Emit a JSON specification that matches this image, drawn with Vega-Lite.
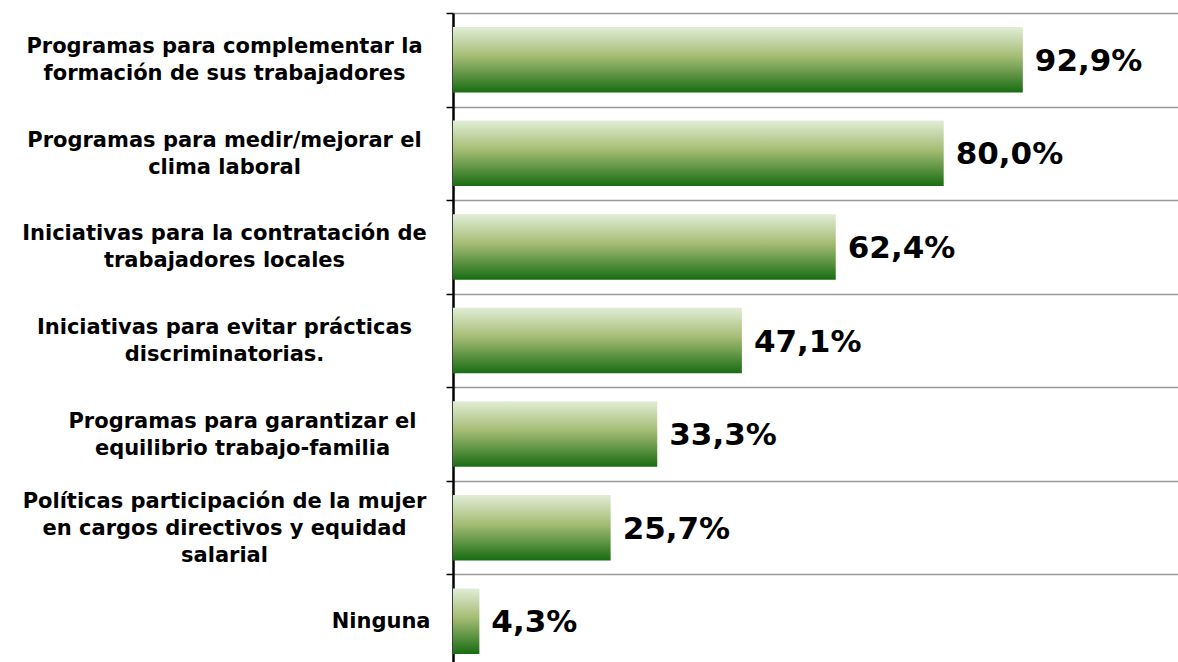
{
  "$schema": "https://vega.github.io/schema/vega-lite/v6.json",
  "autosize": "none",
  "width": 725,
  "height": 655,
  "padding": {"left": 453, "top": 13, "right": 0, "bottom": 0},
  "background": "white",
  "data": {
    "values": [
      {"cat": "Programas para complementar la|formación de sus trabajadores", "v": 92.9},
      {"cat": "Programas para medir/mejorar el|clima laboral", "v": 80.0},
      {"cat": "Iniciativas para la contratación de|trabajadores locales", "v": 62.4},
      {"cat": "Iniciativas para evitar prácticas|discriminatorias.", "v": 47.1},
      {"cat": "Programas para garantizar el|equilibrio trabajo-familia", "v": 33.3},
      {"cat": "Políticas participación de la mujer|en cargos directivos y equidad|salarial", "v": 25.7},
      {"cat": "Ninguna", "v": 4.3}
    ]
  },
  "transform": [
    {"calculate": "replace(format(datum.v, '.1f'), '.', ',') + '%'", "as": "lbl"}
  ],
  "encoding": {
    "y": {
      "field": "cat",
      "type": "nominal",
      "sort": null,
      "scale": {"paddingInner": 0, "paddingOuter": 0},
      "axis": {
        "title": null,
        "orient": "left",
        "labelExpr": "isString(datum.value) ? split(datum.value, '|') : ''",
        "labelFont": "DejaVu Sans",
        "labelFontWeight": "bold",
        "labelFontSize": 21,
        "labelColor": "black",
        "labelLimit": 0,
        "labelLineHeight": 27,
        "labelBaseline": {"condition": {"test": "datum.value === 'Ninguna'", "value": "middle"}, "value": "line-bottom"},
        "labelAlign": {"condition": {"test": "datum.value === 'Ninguna'", "value": "right"}, "value": "center"},
        "labelOffset": {"condition": {"test": "isString(datum.value) && indexof(datum.value, 'salarial') >= 0", "value": -13}, "value": 0},
        "labelPadding": {"condition": [
          {"test": "datum.value === 'Ninguna'", "value": 16},
          {"test": "isString(datum.value) && indexof(datum.value, 'garantizar') >= 0", "value": 204}
        ], "value": 222},
        "tickBand": "extent",
        "ticks": true,
        "tickSize": 7,
        "tickColor": "black",
        "tickWidth": 1.5,
        "domain": true,
        "domainColor": "black",
        "domainWidth": 2.5,
        "grid": true,
        "gridColor": "#999999",
        "gridWidth": 1.5
      }
    },
    "x": {
      "field": "v",
      "type": "quantitative",
      "scale": {"domain": [0, 118.2], "nice": false},
      "axis": null
    }
  },
  "layer": [
    {
      "mark": {
        "type": "bar",
        "height": {"band": 0.7},
        "color": {
          "gradient": "linear",
          "x1": 0, "y1": 0, "x2": 0, "y2": 1,
          "stops": [
            {"offset": 0, "color": "#e1edd6"},
            {"offset": 0.45, "color": "#a4bc73"},
            {"offset": 1, "color": "#186c13"}
          ]
        }
      }
    },
    {
      "mark": {
        "type": "text",
        "align": "left",
        "baseline": "middle",
        "dx": 12,
        "dy": 2,
        "font": "DejaVu Sans",
        "fontWeight": "bold",
        "fontSize": 31,
        "color": "black"
      },
      "encoding": {"text": {"field": "lbl"}}
    }
  ],
  "config": {"view": {"stroke": null}}
}
